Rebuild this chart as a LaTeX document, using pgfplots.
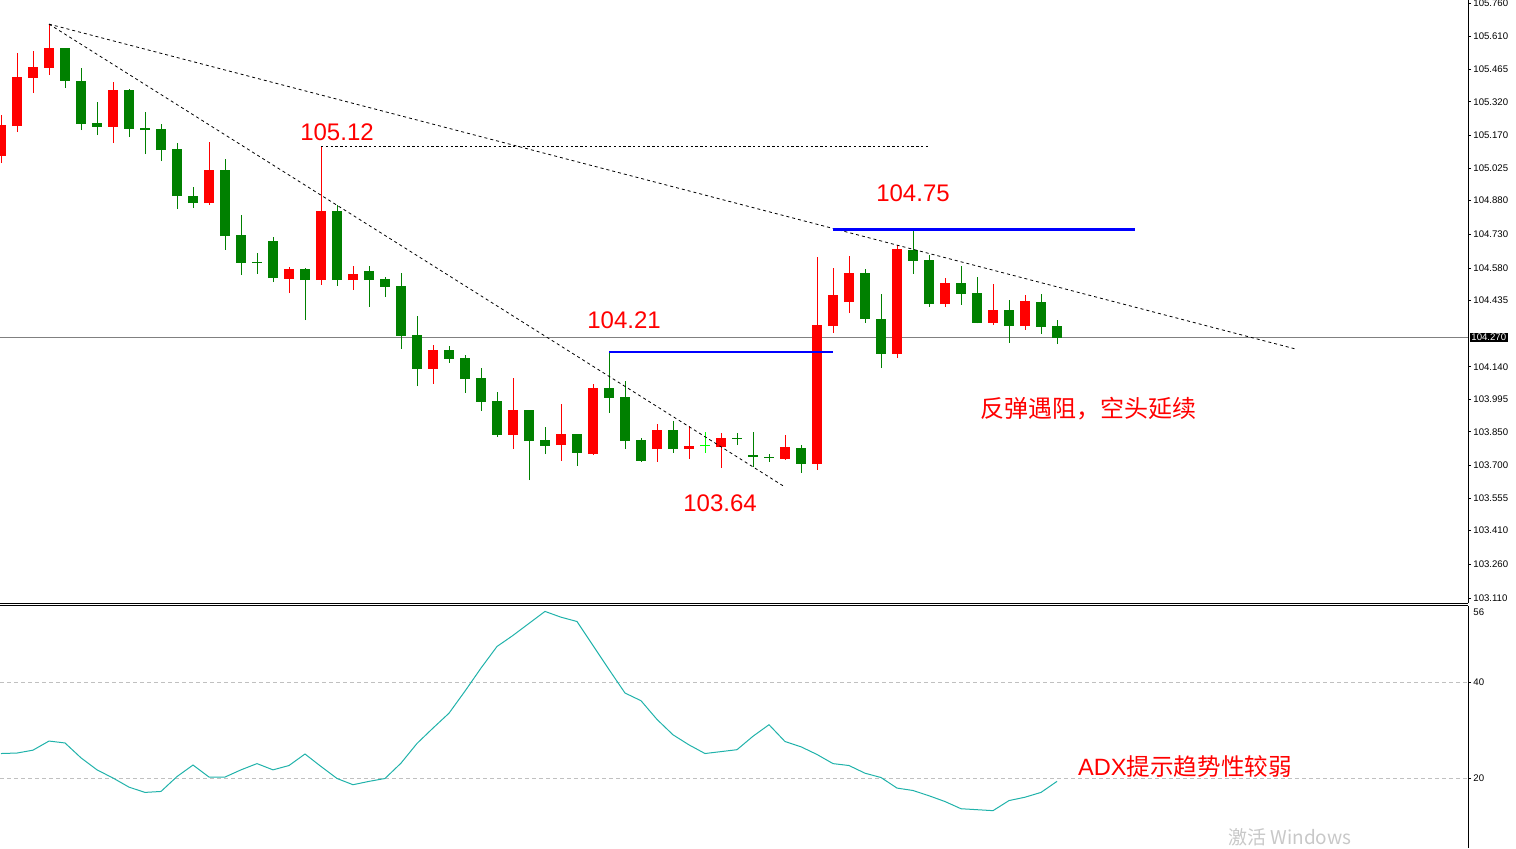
\documentclass[border=0pt]{standalone}
\usepackage{pgfplots}
\pgfplotsset{compat=1.18}
\usepackage{pgfplotstable}
\usepackage{fontspec}
\setmainfont{Liberation Sans}
\newfontfamily\cjk{Noto Sans CJK SC}
\definecolor{cup}{RGB}{255,0,0}
\definecolor{cdn}{RGB}{0,128,0}
\definecolor{clime}{RGB}{0,255,0}
\definecolor{adxc}{RGB}{32,178,170}
\definecolor{gridc}{RGB}{192,192,192}
\definecolor{wm}{RGB}{200,200,200}

\pgfplotstableread{
i o h l c
0 105.079 105.261 105.047 105.217
1 105.212 105.537 105.185 105.430
2 105.426 105.546 105.359 105.475
3 105.471 105.666 105.439 105.560
7 105.208 105.408 105.136 105.373
13 104.869 105.141 104.862 105.016
18 104.531 104.584 104.468 104.575
20 104.526 105.123 104.504 104.834
22 104.526 104.589 104.482 104.553
27 104.130 104.237 104.063 104.214
32 103.836 104.090 103.773 103.947
35 103.791 103.974 103.720 103.840
37 103.751 104.063 103.747 104.045
41 103.773 103.885 103.716 103.858
43 103.773 103.876 103.729 103.787
45 103.782 103.845 103.689 103.822
49 103.729 103.836 103.725 103.782
51 103.707 104.629 103.680 104.326
52 104.321 104.580 104.290 104.459
53 104.428 104.633 104.379 104.557
56 104.197 104.682 104.179 104.664
59 104.419 104.535 104.406 104.513
62 104.335 104.508 104.326 104.393
64 104.321 104.459 104.304 104.433
}\upcandles

\pgfplotstableread{
i o h l c
4 105.560 105.560 105.381 105.413
5 105.413 105.471 105.194 105.221
6 105.226 105.319 105.172 105.208
8 105.373 105.377 105.163 105.199
9 105.203 105.275 105.087 105.194
10 105.199 105.221 105.056 105.105
11 105.110 105.136 104.842 104.900
12 104.900 104.940 104.847 104.869
14 105.016 105.065 104.660 104.722
15 104.727 104.816 104.548 104.602
16 104.607 104.646 104.553 104.601
17 104.700 104.718 104.517 104.535
19 104.575 104.580 104.348 104.526
21 104.834 104.860 104.500 104.526
23 104.566 104.589 104.406 104.526
24 104.531 104.540 104.450 104.495
25 104.500 104.557 104.219 104.277
26 104.281 104.366 104.054 104.130
28 104.214 104.232 104.157 104.174
29 104.179 104.192 104.023 104.085
30 104.090 104.134 103.943 103.983
31 103.987 104.027 103.827 103.836
33 103.947 103.947 103.635 103.809
34 103.814 103.871 103.751 103.787
36 103.840 103.840 103.698 103.756
38 104.045 104.206 103.934 104.001
39 104.005 104.076 103.773 103.809
40 103.814 103.822 103.716 103.720
42 103.858 103.898 103.756 103.773
46 103.823 103.845 103.791 103.819
47 103.747 103.849 103.693 103.738
48 103.738 103.751 103.716 103.733
50 103.778 103.791 103.667 103.707
54 104.557 104.575 104.335 104.352
55 104.352 104.464 104.134 104.197
57 104.660 104.749 104.553 104.611
58 104.615 104.638 104.406 104.419
60 104.513 104.589 104.415 104.464
61 104.468 104.540 104.333 104.335
63 104.393 104.437 104.246 104.321
65 104.428 104.464 104.286 104.317
66 104.321 104.348 104.241 104.268
}\dncandles

\pgfplotstableread{
i o h l c
44 103.789 103.849 103.756 103.785
}\dojicandles

\pgfplotstableread{
i adx
0 25.1
1 25.2
2 25.8
3 27.7
4 27.3
5 24.2
6 21.7
7 20.0
8 18.1
9 17.0
10 17.2
11 20.3
12 22.7
13 20.2
14 20.2
15 21.7
16 23.0
17 21.7
18 22.6
19 25.0
20 22.4
21 19.9
22 18.6
23 19.3
24 19.9
25 23.1
26 27.2
27 30.4
28 33.5
29 38.1
30 42.9
31 47.4
32 49.7
33 52.2
34 54.7
35 53.5
36 52.6
37 47.6
38 42.6
39 37.7
40 36.1
41 32.2
42 29.0
43 26.9
44 25.1
45 25.5
46 25.9
47 28.7
48 31.1
49 27.6
50 26.5
51 24.9
52 23.0
53 22.6
54 21.0
55 20.1
56 17.9
57 17.4
58 16.3
59 15.1
60 13.6
61 13.4
62 13.2
63 15.3
64 16.0
65 17.0
66 19.3
}\adxdata

\pgfplotsset{
  wick/.style={draw=none, mark=none, error bars/.cd, y dir=plus, y explicit, error mark=none,
    error bar style={draw=#1, solid, line width=0.5pt}},
  body/.style={draw=none, mark=none, error bars/.cd, y dir=plus, y explicit, error mark=none,
    error bar style={draw=#1, solid, line width=5pt}},
}

\begin{document}
\begin{tikzpicture}
\useasboundingbox (0,0) rectangle (758pt,424pt);
\clip (0,0) rectangle (758pt,424pt);
\begin{axis}[
  at={(0pt,122.5pt)}, anchor=south west,
  scale only axis, width=734pt, height=301.5pt,
  xmin=-0.0625, xmax=91.6875, ymin=103.0874, ymax=105.7734,
  clip=false,
  axis x line=bottom, axis y line=right,
  axis line style={-, line width=0.5pt, black},
  xtick=\empty,
  ytick={105.760,105.610,105.465,105.320,105.170,105.025,104.880,104.730,104.580,104.435,104.140,103.995,103.850,103.700,103.555,103.410,103.260,103.110},
  yticklabels={105.760,105.610,105.465,105.320,105.170,105.025,104.880,104.730,104.580,104.435,104.140,103.995,103.850,103.700,103.555,103.410,103.260,103.110},
  yticklabel style={font=\fontsize{4.8}{5}\selectfont, inner sep=1pt},
  tick align=outside, major tick length=1.5pt,
  ytick style={line width=0.4pt, black},
]
% current price line
\addplot[gray, line width=0.5pt] coordinates {(-0.0625,104.27) (91.6875,104.27)};
% wicks
\addplot[wick=cup] table[x=i, y=l, y error expr=\thisrow{h}-\thisrow{l}] {\upcandles};
\addplot[wick=cdn] table[x=i, y=l, y error expr=\thisrow{h}-\thisrow{l}] {\dncandles};
\addplot[wick=clime] table[x=i, y=l, y error expr=\thisrow{h}-\thisrow{l}] {\dojicandles};
% bodies
\addplot[body=cup] table[x=i, y=o, y error expr=\thisrow{c}-\thisrow{o}] {\upcandles};
\addplot[body=cdn] table[x=i, y=c, y error expr=\thisrow{o}-\thisrow{c}] {\dncandles};
\addplot[body=clime] table[x=i, y=c, y error expr=\thisrow{o}-\thisrow{c}] {\dojicandles};
% trend lines
\addplot[black, line width=0.4pt, dash pattern=on 1.5pt off 1.5pt] coordinates {(3,105.666) (80.9,104.219)};
\addplot[black, line width=0.4pt, dash pattern=on 1.5pt off 1.5pt] coordinates {(3,105.666) (49,103.604)};
\addplot[black, line width=0.4pt, dash pattern=on 1.2pt off 1.2pt] coordinates {(20,105.12) (58,105.12)};
% blue levels
\addplot[blue, line width=1pt] coordinates {(38,104.206) (52,104.206)};
\addplot[blue, line width=1.5pt] coordinates {(52,104.749) (70.9,104.749)};
% annotations
\node[text=cup, font=\fontsize{12}{12}\selectfont] at (axis cs:21,105.186) {105.12};
\node[text=cup, font=\fontsize{12}{12}\selectfont] at (axis cs:38.94,104.348) {104.21};
\node[text=cup, font=\fontsize{12}{12}\selectfont] at (axis cs:44.94,103.533) {103.64};
\node[text=cup, font=\fontsize{12}{12}\selectfont] at (axis cs:57,104.914) {104.75};
\node[text=cup, font=\cjk\fontsize{12}{12}\selectfont] at (axis cs:67.94,103.952) {反弹遇阻，空头延续};
% price box
\node[fill=black, text=white, font=\fontsize{4.8}{5}\selectfont, inner sep=0.7pt, anchor=west] at ([xshift=0.8pt]axis cs:91.6875,104.27) {104.270};
\end{axis}

\begin{axis}[
  at={(0pt,0pt)}, anchor=south west,
  scale only axis, width=734pt, height=121pt,
  xmin=-0.0625, xmax=91.6875, ymin=5.42, ymax=55.83,
  clip=false,
  axis x line=top, axis y line=right,
  axis line style={-, line width=0.5pt, black},
  xtick=\empty,
  ytick={20,40}, yticklabels={20,40},
  yticklabel style={font=\fontsize{4.8}{5}\selectfont, inner sep=1pt},
  tick align=outside, major tick length=1.5pt,
  ytick style={line width=0.4pt, black},
  ymajorgrids, grid style={gridc, dash pattern=on 2pt off 1.5pt, line width=0.4pt},
]
\addplot[adxc, line width=0.5pt] table[x=i, y=adx] {\adxdata};
\node[font=\fontsize{4.8}{5}\selectfont, inner sep=1pt, anchor=north west] at ([xshift=1.5pt]axis cs:91.6875,55.83) {56};
\node[text=cup, font=\fontsize{11.8}{12}\selectfont] at (axis cs:74,22.3) {ADX{\cjk 提示趋势性较弱}};
\end{axis}
\node[text=wm, font=\cjk\fontsize{9.5}{10}\selectfont, anchor=base west, inner sep=0pt] at (614pt,1.8pt) {激活 Windows};
\end{tikzpicture}
\end{document}
